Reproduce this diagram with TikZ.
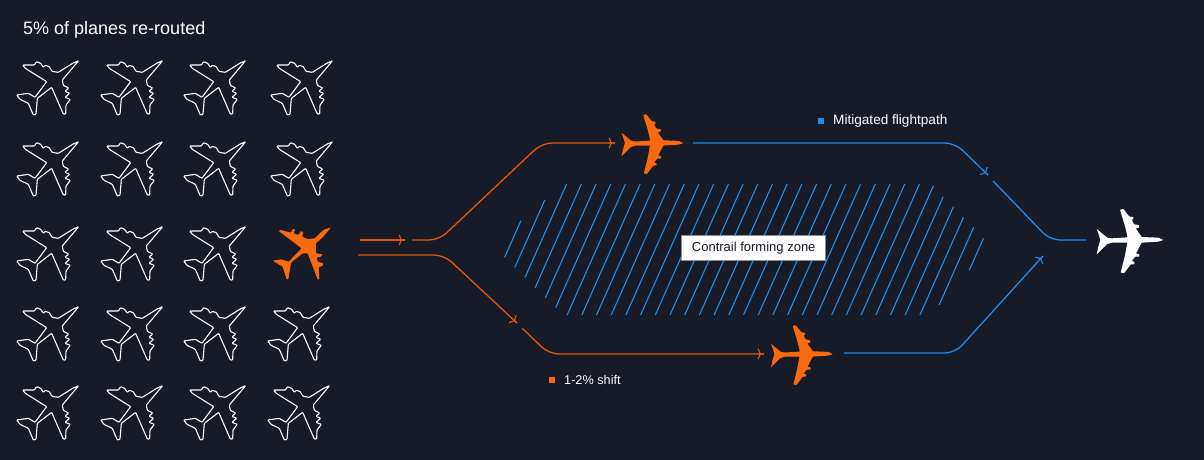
\documentclass[tikz,border=0pt]{standalone}
\usepackage{fontspec}
\setmainfont{Liberation Sans}
\definecolor{bg}{HTML}{171A27}
\definecolor{orangeP}{HTML}{F96A0F}
\definecolor{orangeL}{HTML}{DD5A10}
\definecolor{blueL}{HTML}{1C8CEE}
\definecolor{hatch}{HTML}{1E8FEA}
\tikzset{
  x=1pt,y=-1pt,
  outlineplane/.pic={\draw[white,line width=1.1pt,line join=round,rounded corners=0.7pt,shift={(-51,-73)},scale=0.3333]
    (236,152) -- (218,160) -- (175,187) -- (156,184) -- (148,170) -- (136,166) -- (130,172) -- (122,160)
    -- (110,155) -- (103,165) -- (68,165) -- (76,175) -- (140,215)
    -- (105,262) -- (85,250) -- (50,255) -- (60,268) -- (85,280) -- (100,315) -- (108,313) -- (112,265)
    -- (155,232) -- (190,312) -- (197,312) -- (198,285) -- (211,268) -- (195,262) -- (209,250) -- (195,244)
    -- (206,234) -- (190,226) -- (187,210) -- cycle;},
  orangeleadplane/.pic={\fill[orangeP,rounded corners=0.6pt,shift={(-39,-31)},scale=0.3333]
    (195,22) -- (172,30) -- (146,55) -- (125,57) -- (108,50) -- (112,37) -- (105,33) -- (97,45) -- (83,40)
    -- (87,28) -- (80,27) -- (75,38) -- (45,30) -- (38,33) -- (107,85) -- (68,125) -- (45,118) -- (20,122)
    -- (50,140) -- (62,178) -- (67,178) -- (75,128) -- (110,100) -- (125,100) -- (155,178) -- (160,178)
    -- (158,142) -- (170,137) -- (172,130) -- (155,125) -- (152,113) -- (165,110) -- (170,103) -- (150,100)
    -- (150,70) -- (172,50) -- cycle;},
  flatplane/.pic={\fill[pic actions,rounded corners=0.6pt,scale=0.3333,shift={(-120,-108)}]
    (220,105) -- (205,98) -- (155,96) -- (137,70) -- (147,68) -- (147,60) -- (132,58) -- (125,45)
    -- (130,42) -- (130,36) -- (118,35) -- (100,12) -- (90,14) -- (104,60) -- (113,97) -- (65,100) -- (52,98)
    -- (20,72) -- (25,85) -- (31,105) -- (25,125) -- (20,148) -- (50,118) -- (65,113) -- (112,113) -- (104,155)
    -- (92,203) -- (102,205) -- (122,178) -- (133,178) -- (133,170) -- (125,168) -- (135,155) -- (148,155)
    -- (148,148) -- (138,145) -- (155,113) -- (205,110) -- cycle;},
  orangeline/.style={draw=orangeL,line width=1.3pt,rounded corners=10pt},
  blueline/.style={draw=blueL,line width=1.3pt,rounded corners=10pt},
  tipmark/.pic={\draw[pic actions,line width=1.1pt] (-6,-5.2) -- (-3.6,0) -- (-6,5.2) (-6,0) -- (0,0);},
  hatchline/.style={draw=hatch,line width=1.1pt},
  legend/.style={text=white,anchor=west,inner sep=0pt},
}
\begin{document}
\begin{tikzpicture}
\useasboundingbox[fill=bg] (0,0) rectangle (1204,460);
\node[text=white,font=\fontsize{18}{21}\selectfont,anchor=west,inner sep=0pt] (title) at (23,30) {5\% of planes re-routed};

\foreach \x/\y in {51/83,135/83,218/83,305/83,
                   51/164,135/164,218/164,305/164,
                   51/249,135/249,218/249,
                   51/329,135/329,218/329,302/329,
                   51/408,135/408,218/408,302/408}
  \pic at (\x,\y) {outlineplane};
\pic at (305,251) {orangeleadplane};

\foreach \k/\yt/\yb in {-2/152/262,-1/90/292,0/42/322,1/42/353,2/42/384,3/42/413,
  4/42/435,5/42/435,6/42/435,7/42/435,8/42/435,9/42/435,10/42/435,11/42/435,12/42/435,
  13/42/435,14/42/435,15/42/435,16/42/435,17/42/435,18/42/435,19/42/435,20/42/435,
  21/42/435,22/42/435,23/42/435,24/42/435,25/48/435,26/80/435,27/110/435,28/142/435,
  29/172/405,30/205/300}{
  \pgfmathsetmacro{\xa}{500+(200+44.1*\k-0.4455*(\yt-42))/3}
  \pgfmathsetmacro{\xb}{500+(200+44.1*\k-0.4455*(\yb-42))/3}
  \pgfmathsetmacro{\ya}{170+\yt/3}
  \pgfmathsetmacro{\yc}{170+\yb/3}
  \draw[hatchline] (\xa,\ya) -- (\xb,\yc);
}

\coordinate (a1) at (360,240);
\coordinate (a2) at (405,240);
\coordinate (b1) at (412,240);
\coordinate (b2) at (439,240);
\coordinate (b3) at (542,143);
\coordinate (b4) at (615,143);
\coordinate (c1) at (358,255);
\coordinate (c2) at (444,255);
\coordinate (c3) at (517,323);
\coordinate (d1) at (522,328);
\coordinate (d2) at (549,354);
\coordinate (d3) at (764,354);
\coordinate (e1) at (693,143);
\coordinate (e2) at (955,143);
\coordinate (e3) at (988,175);
\coordinate (f1) at (993,181);
\coordinate (f2) at (1050,240);
\coordinate (f3) at (1086,240);
\coordinate (g1) at (844,353);
\coordinate (g2) at (955,353);
\coordinate (g3) at (1043,256);

\draw[orangeline] (a1) -- (a2);
\draw[orangeline] (b1) -- (b2) -- (b3) -- (b4);
\draw[orangeline] (c1) -- (c2) -- (c3);
\draw[orangeline] (d1) -- (d2) -- (d3);
\draw[blueline] (e1) -- (e2) -- (e3);
\draw[blueline] (f1) -- (f2) -- (f3);
\draw[blueline] (g1) -- (g2) -- (g3);

\pic[draw=orangeL] at (a2) {tipmark};
\pic[draw=orangeL] at (b4) {tipmark};
\pic[draw=orangeL,rotate=-44] at (c3) {tipmark};
\pic[draw=orangeL] at (d3) {tipmark};
\pic[draw=blueL,rotate=-44] at (e3) {tipmark};
\pic[draw=blueL,rotate=48] at (g3) {tipmark};

\pic[fill=orangeP,scale=0.93] at (652.5,144) {flatplane};
\pic[fill=orangeP,scale=0.93] at (802,355) {flatplane};
\pic[fill=white] at (1130,241) {flatplane};

\node[draw=black!45,fill=white,line width=0.7pt,minimum width=144pt,minimum height=24.6pt,inner sep=0pt,text=bg,font=\fontsize{13}{15}\selectfont] (zone) at (753.7,248) {Contrail forming zone};

\node[fill=blueL,minimum size=6pt,inner sep=0pt] (bluekey) at (821,121) {};
\node[legend,font=\fontsize{13.6}{15}\selectfont] (bluetext) at (833,121) {Mitigated flightpath};
\node[fill=orangeP,minimum size=6pt,inner sep=0pt] (orangekey) at (552,380) {};
\node[legend,font=\fontsize{12.7}{15}\selectfont] (orangetext) at (564,380) {1-2\% shift};
\end{tikzpicture}
\end{document}
